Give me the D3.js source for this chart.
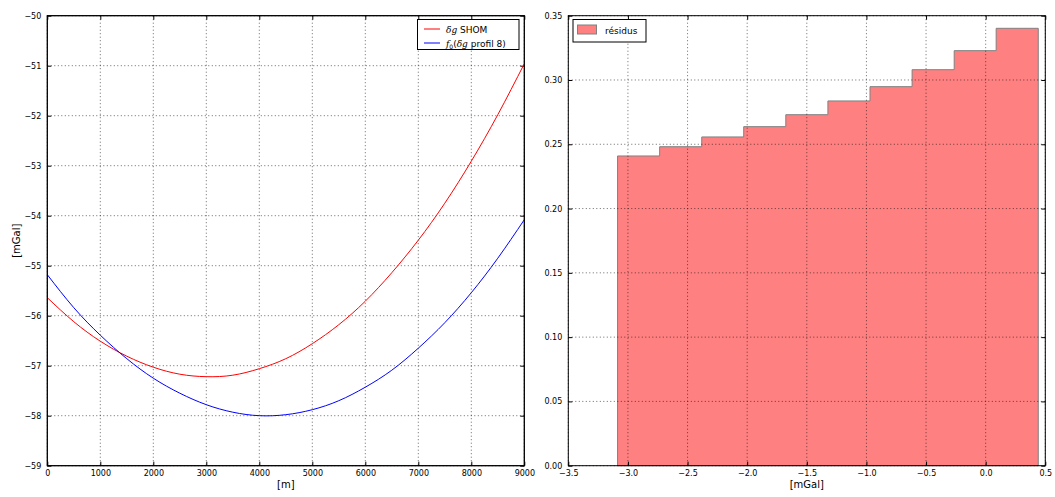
<!DOCTYPE html>
<html>
<head>
<meta charset="utf-8">
<script src="https://cdn.jsdelivr.net/npm/d3@7"></script>
<style>
  html, body { margin: 0; padding: 0; background: #fff; }
  svg { display: block; font-family: "DejaVu Sans", sans-serif; }
</style>
</head>
<body>
<svg id="chart" width="1055" height="497"></svg>
<script>
// ---- Data ----
const distance = [0, 500, 1000, 1500, 2000, 2500, 3000, 3500, 4000, 4500, 5000, 5500, 6000, 6500, 7000, 7500, 8000, 8500, 9000];
const dgShom = [-55.64, -56.12, -56.51, -56.81, -57.03, -57.17, -57.22, -57.19, -57.06, -56.86, -56.56, -56.18, -55.71, -55.14, -54.49, -53.75, -52.91, -51.98, -50.96];
const f0Profil8 = [-55.18, -55.84, -56.39, -56.86, -57.25, -57.55, -57.78, -57.93, -58.00, -57.98, -57.88, -57.70, -57.43, -57.09, -56.65, -56.14, -55.54, -54.85, -54.08];

const binEdges = [-3.087, -2.734, -2.381, -2.029, -1.676, -1.323, -0.970, -0.617, -0.264, 0.088, 0.441];
const binDensity = [0.2409, 0.2481, 0.2557, 0.2637, 0.2730, 0.2837, 0.2948, 0.3080, 0.3228, 0.3402];

const leftXTicks = [0, 1000, 2000, 3000, 4000, 5000, 6000, 7000, 8000, 9000];
const leftYTicks = [-59, -58, -57, -56, -55, -54, -53, -52, -51, -50];
const rightXTicks = [-3.5, -3.0, -2.5, -2.0, -1.5, -1.0, -0.5, 0.0, 0.5];
const rightYTicks = [0.00, 0.05, 0.10, 0.15, 0.20, 0.25, 0.30, 0.35];

(function () {
const svg = d3.select("#chart");
const yTop = 15.7, yBot = 465.7;
const minus = s => s.replace("-", "\u2212");

function drawFrame(g, x, y, xTicks, yTicks, xFmt, yFmt) {
  const [x0, x1] = x.range();
  const grid = g.append("g");
  xTicks.forEach(t => {
    grid.append("line").attr("x1", x(t)).attr("x2", x(t)).attr("y1", yTop).attr("y2", yBot)
      .attr("stroke", "#000").attr("stroke-width", 0.6).attr("stroke-dasharray", "1,2.5");
  });
  yTicks.forEach(t => {
    grid.append("line").attr("x1", x0).attr("x2", x1).attr("y1", y(t)).attr("y2", y(t))
      .attr("stroke", "#000").attr("stroke-width", 0.6).attr("stroke-dasharray", "1,2.5");
  });
  const ax = d3.axisBottom(x).tickValues(xTicks).tickFormat(xFmt).tickSizeInner(-4).tickSizeOuter(0).tickPadding(8);
  const gx = g.append("g").attr("transform", `translate(0,${yBot})`).call(ax);
  const axT = d3.axisTop(x).tickValues(xTicks).tickFormat("").tickSizeInner(-4).tickSizeOuter(0);
  const gxt = g.append("g").attr("transform", `translate(0,${yTop})`).call(axT);
  const ay = d3.axisLeft(y).tickValues(yTicks).tickFormat(yFmt).tickSizeInner(-4).tickSizeOuter(0).tickPadding(6);
  const gy = g.append("g").attr("transform", `translate(${x0},0)`).call(ay);
  const ayR = d3.axisRight(y).tickValues(yTicks).tickFormat("").tickSizeInner(-4).tickSizeOuter(0);
  const gyr = g.append("g").attr("transform", `translate(${x1},0)`).call(ayR);
  [gx, gxt, gy, gyr].forEach(a => {
    a.select(".domain").remove();
    a.selectAll(".tick line").attr("stroke", "#000").attr("stroke-width", 1);
    a.selectAll("text").attr("font-family", "DejaVu Sans").attr("font-size", 8).attr("fill", "#000");
  });
  gx.selectAll("text").attr("dy", "0.71em").attr("y", 4.5);
  g.append("rect").attr("x", x0).attr("y", yTop).attr("width", x1 - x0).attr("height", yBot - yTop)
    .attr("fill", "none").attr("stroke", "#000").attr("stroke-width", 1);
}

// ---------- Left panel ----------
const xL = d3.scaleLinear().domain([0, 9000]).range([47.3, 524.3]);
const yL = d3.scaleLinear().domain([-59, -50]).range([yBot, yTop]);
const gL = svg.append("g");

const lineGen = vals => d3.line()
  .x((d, i) => xL(distance[i]))
  .y(d => yL(d))
  .curve(d3.curveNatural)(vals);

svg.append("defs").append("clipPath").attr("id", "clipL")
  .append("rect").attr("x", 47.3).attr("y", yTop).attr("width", 477).attr("height", yBot - yTop);

drawFrame(gL, xL, yL, leftXTicks, leftYTicks, d => String(d), d => minus(String(d)));

const curves = gL.append("g").attr("clip-path", "url(#clipL)");
curves.append("path").attr("d", lineGen(dgShom)).attr("fill", "none").attr("stroke", "#ff0000").attr("stroke-width", 1);
curves.append("path").attr("d", lineGen(f0Profil8)).attr("fill", "none").attr("stroke", "#0000ff").attr("stroke-width", 1);

gL.append("rect").attr("x", 47.3).attr("y", yTop).attr("width", 477).attr("height", yBot - yTop)
  .attr("fill", "none").attr("stroke", "#000").attr("stroke-width", 1);

gL.append("text").attr("x", (47.3 + 524.3) / 2).attr("y", 488).attr("text-anchor", "middle")
  .attr("font-size", 10).text("[m]");
gL.append("text").attr("transform", `translate(20,${(yTop + yBot) / 2}) rotate(-90)`)
  .attr("text-anchor", "middle").attr("font-size", 10).text("[mGal]");

// legend left
const legL = gL.append("g");
legL.append("rect").attr("x", 417.5).attr("y", 19.5).attr("width", 101.5).attr("height", 30)
  .attr("fill", "#fff").attr("stroke", "#000").attr("stroke-width", 1);
legL.append("line").attr("x1", 424).attr("x2", 440).attr("y1", 29).attr("y2", 29).attr("stroke", "#ff0000");
legL.append("line").attr("x1", 424).attr("x2", 440).attr("y1", 43).attr("y2", 43).attr("stroke", "#0000ff");
const t1 = legL.append("text").attr("x", 446).attr("y", 32.5).attr("font-size", 9);
t1.append("tspan").attr("font-style", "italic").attr("font-family", "DejaVu Serif").text("δg");
t1.append("tspan").text(" SHOM");
const t2 = legL.append("text").attr("x", 446).attr("y", 46.5).attr("font-size", 9);
t2.append("tspan").attr("font-style", "italic").attr("font-family", "DejaVu Serif").text("f");
t2.append("tspan").attr("font-size", 6).attr("dy", 2).text("0");
t2.append("tspan").attr("dy", -2).text("(");
t2.append("tspan").attr("font-style", "italic").attr("font-family", "DejaVu Serif").text("δg");
t2.append("tspan").text(" profil 8)");

// ---------- Right panel ----------
const xR = d3.scaleLinear().domain([-3.5, 0.5]).range([568.3, 1045.3]);
const yR = d3.scaleLinear().domain([0, 0.35]).range([yBot, yTop]);
const gR = svg.append("g");

const pts = [[binEdges[0], 0]];
binDensity.forEach((h, i) => { pts.push([binEdges[i], h]); pts.push([binEdges[i + 1], h]); });
pts.push([binEdges[binEdges.length - 1], 0]);
const stepPath = d3.line().x(d => xR(d[0])).y(d => yR(d[1]))(pts) + "Z";
gR.append("path").attr("d", stepPath).attr("fill", "#ff8080").attr("stroke", "#808080").attr("stroke-width", 1);

drawFrame(gR, xR, yR, rightXTicks, rightYTicks, d => minus(d.toFixed(1)), d => d.toFixed(2));

gR.append("text").attr("x", (568.3 + 1045.3) / 2).attr("y", 488).attr("text-anchor", "middle")
  .attr("font-size", 10).text("[mGal]");

const legR = gR.append("g");
legR.append("rect").attr("x", 573).attr("y", 19.5).attr("width", 73).attr("height", 22.5)
  .attr("fill", "#fff").attr("stroke", "#000").attr("stroke-width", 1);
legR.append("rect").attr("x", 577.5).attr("y", 25).attr("width", 19).attr("height", 9)
  .attr("fill", "#ff8080").attr("stroke", "#808080").attr("stroke-width", 1);
legR.append("text").attr("x", 605).attr("y", 33.5).attr("font-size", 9).text("résidus");
})();
</script>
</body>
</html>
